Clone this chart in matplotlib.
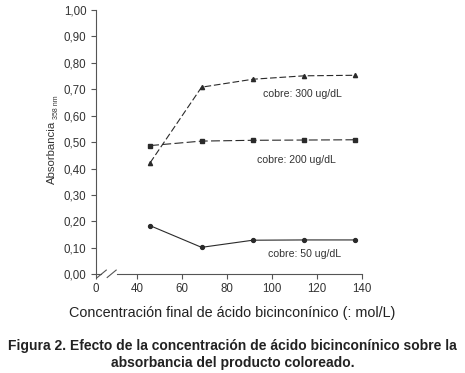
import matplotlib
matplotlib.use('Agg')
import matplotlib.pyplot as plt
from matplotlib.ticker import FuncFormatter

plt.rcParams['font.family'] = ['Liberation Sans', 'DejaVu Sans']

# data
bca = [45.7, 68.6, 91.4, 114.3, 137.1]
abs_300 = [0.422, 0.708, 0.738, 0.751, 0.753]
abs_200 = [0.487, 0.504, 0.507, 0.508, 0.509]
abs_50 = [0.184, 0.102, 0.129, 0.130, 0.130]
x_ticks = [40, 60, 80, 100, 120, 140]
y_ticks = [0.0, 0.1, 0.2, 0.3, 0.4, 0.5, 0.6, 0.7, 0.8, 0.9, 1.0]

x_zero = 21.4  # where the "0" tick sits after the axis break
ink = '#2a2a2a'
txt = '#333333'
axc = '#555555'

fig = plt.figure(figsize=(4.65, 3.73), dpi=100)
ax = fig.add_axes([0.2054, 0.2646, 0.5731, 0.7086])

ax.plot(bca, abs_300, color=ink, lw=0.8, dashes=(6, 2.5),
        marker='^', ms=3.0, mfc=ink, mec=ink)
ax.plot(bca, abs_200, color=ink, lw=0.8, dashes=(8, 3),
        marker='s', ms=2.6, mfc=ink, mec=ink)
ax.plot(bca, abs_50, color=ink, lw=0.8, ls='-',
        marker='o', ms=2.8, mfc=ink, mec=ink)

ax.text(95.9, 0.683, 'cobre: 300 ug/dL', fontsize=7.6, color=txt, va='center')
ax.text(93.3, 0.433, 'cobre: 200 ug/dL', fontsize=7.6, color=txt, va='center')
ax.text(98.2, 0.076, 'cobre: 50 ug/dL', fontsize=7.6, color=txt, va='center')

ax.set_xlim(x_zero, 140)
ax.set_ylim(0, 1.0)
ax.set_xticks([x_zero] + x_ticks)
ax.set_xticklabels(['0'] + [str(t) for t in x_ticks])
ax.set_yticks(y_ticks)
ax.yaxis.set_major_formatter(FuncFormatter(lambda v, p: f'{v:.2f}'.replace('.', ',')))

for s in ['top', 'right', 'bottom']:
    ax.spines[s].set_visible(False)
ax.spines['left'].set_color(axc)
ax.spines['left'].set_linewidth(0.8)
ax.tick_params(direction='out', length=3.5, width=0.8, color=axc,
               labelsize=8.3, labelcolor=txt, pad=3)

# axis break: gap in the bottom line with two slashes
ax.plot([x_zero, x_zero + 2.5], [0, 0], color=axc, lw=0.8, clip_on=False)
ax.plot([x_zero + 9.5, 140], [0, 0], color=axc, lw=0.8, clip_on=False)
for x0 in (x_zero + 0.8, x_zero + 5.2):
    ax.plot([x0, x0 + 4.0], [-0.012, 0.016], color=axc, lw=0.8,
            clip_on=False)

fig.text(52 / 465, 1 - 152 / 373, 'Absorbancia', rotation=90,
         ha='center', va='center', fontsize=8.2, color=txt)
fig.text(56 / 465, 1 - 107 / 373, '358 nm', rotation=90,
         ha='center', va='center', fontsize=5, color=txt)

fig.text(0.499, 1 - 313 / 373, 'Concentración final de ácido bicinconínico (: mol/L)',
         ha='center', va='center', fontsize=10.4, color='#222222')
fig.text(0.5, 1 - 354.5 / 373,
         'Figura 2. Efecto de la concentración de ácido bicinconínico sobre la\n'
         'absorbancia del producto coloreado.',
         ha='center', va='center', fontsize=10, fontweight='bold',
         color='#222222', linespacing=1.22)

fig.savefig('out.png', dpi=100)
plt.close(fig)
